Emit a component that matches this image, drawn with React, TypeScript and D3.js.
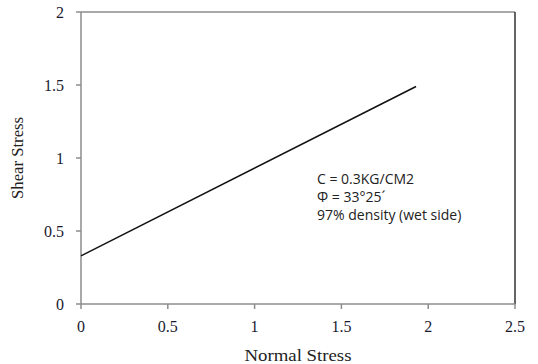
import * as d3 from "d3";

// ── Data ──────────────────────────────────────────────────────────────────────

const normalStress = [0, 1.93];
const shearStress = [0.33, 1.49];
const xTicks = [0, 0.5, 1, 1.5, 2, 2.5];
const yTicks = [0, 0.5, 1, 1.5, 2];
const noteLines = ["C = 0.3KG/CM2", "Φ = 33°25´", "97% density (wet side)"];

// ── Layout ────────────────────────────────────────────────────────────────────

const W = 538;
const H = 364;
const m = { left: 81, top: 12, right: 23, bottom: 60 };

export default function App() {
  const x = d3.scaleLinear().domain([0, 2.5]).range([m.left, W - m.right]);
  const y = d3.scaleLinear().domain([0, 2]).range([H - m.bottom, m.top]);

  const pts = normalStress.map((v, i) => [v, shearStress[i]] as [number, number]);
  const line = d3
    .line<[number, number]>()
    .x((d) => x(d[0]))
    .y((d) => y(d[1]));

  const serif = "'Liberation Serif', 'Times New Roman', serif";
  const axisColor = "#8c8c8c";

  return (
    <svg
      width={W}
      height={H}
      style={{ position: "absolute", left: 0, top: 0, background: "#fff" }}
    >
      {/* frame */}
      <line x1={x(0)} x2={x(2.5)} y1={y(2)} y2={y(2)} stroke={axisColor} strokeWidth={1.5} />
      <line x1={x(2.5)} x2={x(2.5)} y1={y(2)} y2={y(0)} stroke="#333" strokeWidth={1.5} />

      {/* y axis */}
      <line x1={x(0)} x2={x(0)} y1={y(0)} y2={y(2)} stroke={axisColor} strokeWidth={1.5} />
      {yTicks.map((t) => (
        <g key={"y" + t}>
          <line x1={x(0) - 5} x2={x(0)} y1={y(t)} y2={y(t)} stroke={axisColor} strokeWidth={1.5} />
          <text
            x={x(0) - 17}
            y={y(t)}
            dy="0.35em"
            textAnchor="end"
            fontFamily={serif}
            fontSize={16}
            fill="#1a1a2e"
          >
            {t}
          </text>
        </g>
      ))}

      {/* x axis */}
      <line x1={x(0)} x2={x(2.5)} y1={y(0)} y2={y(0)} stroke={axisColor} strokeWidth={1.5} />
      {xTicks.map((t) => (
        <g key={"x" + t}>
          <line x1={x(t)} x2={x(t)} y1={y(0)} y2={y(0) + 5} stroke={axisColor} strokeWidth={1.5} />
          <text
            x={x(t)}
            y={y(0) + 28}
            textAnchor="middle"
            fontFamily={serif}
            fontSize={16}
            fill="#1a1a2e"
          >
            {t}
          </text>
        </g>
      ))}

      {/* fitted line */}
      <path d={line(pts) ?? ""} fill="none" stroke="#111" strokeWidth={1.5} />

      {/* annotation */}
      {noteLines.map((s, i) => (
        <text
          key={s}
          x={317}
          y={184 + i * 18}
          fontFamily="'Open Sans', 'Liberation Sans', sans-serif"
          fontSize={14}
          fill="#222"
        >
          {s}
        </text>
      ))}

      {/* axis titles */}
      <text
        x={(x(0) + x(2.5)) / 2}
        y={H - 3}
        textAnchor="middle"
        fontFamily={serif}
        fontSize={17}
        textLength={107}
        lengthAdjust="spacingAndGlyphs"
        fill="#222"
      >
        Normal Stress
      </text>
      <text
        transform={`translate(23, ${(y(0) + y(2)) / 2}) rotate(-90)`}
        textAnchor="middle"
        fontFamily={serif}
        fontSize={16}
        textLength={82}
        lengthAdjust="spacingAndGlyphs"
        fill="#222"
      >
        Shear Stress
      </text>
    </svg>
  );
}
